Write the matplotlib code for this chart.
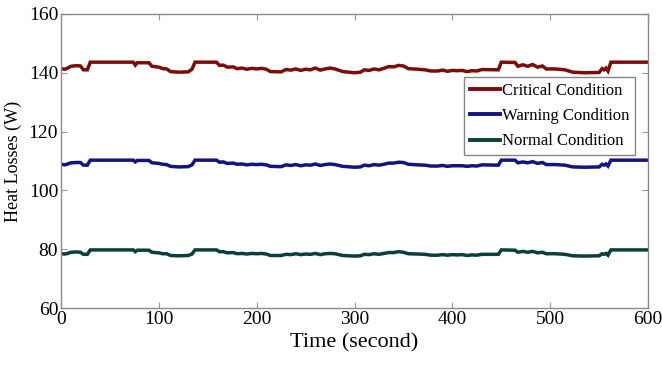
import matplotlib
matplotlib.use("Agg")
import matplotlib.pyplot as plt

time_s = [0, 4, 7, 10, 16, 20, 23, 27, 30, 74,
          76, 78, 90, 93, 100, 104, 108, 112, 120, 130,
          134, 137, 159, 162, 166, 170, 176, 180, 185, 190,
          195, 200, 205, 210, 214, 225, 230, 235, 240, 245,
          250, 255, 260, 265, 270, 275, 280, 288, 300, 306,
          310, 315, 320, 325, 330, 335, 340, 345, 350, 355,
          365, 372, 378, 385, 390, 395, 400, 405, 410, 415,
          420, 425, 430, 447, 450, 464, 467, 472, 477, 482,
          487, 492, 496, 505, 515, 523, 535, 550, 553, 555,
          557, 559, 562, 600]

critical = [141.4, 141.2, 141.6, 142.2, 142.4, 142.3, 141.0, 141.0, 143.6, 143.6,
            142.6, 143.4, 143.4, 142.2, 141.9, 141.4, 141.3, 140.4, 140.2, 140.3,
            141.2, 143.6, 143.6, 142.5, 142.6, 141.9, 142.0, 141.4, 141.6, 141.2,
            141.5, 141.3, 141.5, 141.2, 140.4, 140.3, 141.1, 140.9, 141.3, 140.8,
            141.2, 141.0, 141.6, 140.9, 141.3, 141.6, 141.3, 140.4, 140.0, 140.2,
            141.0, 140.8, 141.3, 141.0, 141.5, 142.1, 142.0, 142.5, 142.3, 141.4,
            141.2, 141.0, 140.6, 140.6, 140.9, 140.5, 140.8, 140.7, 140.8, 140.4,
            140.7, 140.6, 141.1, 141.0, 143.6, 143.5, 142.2, 142.7, 142.2, 142.8,
            141.9, 142.3, 141.3, 141.3, 141.0, 140.2, 140.0, 140.1, 141.4, 141.0,
            141.6, 140.6, 143.6, 143.6]

warning = [108.9, 108.7, 109.0, 109.4, 109.5, 109.5, 108.6, 108.6, 110.3, 110.3,
           109.7, 110.2, 110.2, 109.4, 109.2, 108.9, 108.8, 108.2, 108.0, 108.1,
           108.7, 110.3, 110.3, 109.6, 109.7, 109.2, 109.3, 108.9, 109.0, 108.7,
           108.9, 108.8, 108.9, 108.7, 108.2, 108.1, 108.7, 108.5, 108.8, 108.4,
           108.7, 108.6, 109.0, 108.5, 108.8, 109.0, 108.8, 108.2, 107.9, 108.0,
           108.6, 108.4, 108.8, 108.6, 108.9, 109.3, 109.3, 109.6, 109.5, 108.9,
           108.7, 108.6, 108.3, 108.3, 108.5, 108.2, 108.4, 108.4, 108.4, 108.2,
           108.4, 108.3, 108.7, 108.6, 110.3, 110.3, 109.4, 109.7, 109.4, 109.8,
           109.2, 109.5, 108.8, 108.8, 108.6, 108.0, 107.9, 108.0, 108.9, 108.6,
           109.0, 108.3, 110.3, 110.3]

normal = [78.5, 78.4, 78.6, 79.0, 79.1, 79.0, 78.3, 78.3, 79.8, 79.8,
          79.2, 79.7, 79.7, 79.0, 78.8, 78.5, 78.5, 77.9, 77.8, 77.9,
          78.4, 79.8, 79.8, 79.2, 79.2, 78.8, 78.9, 78.5, 78.6, 78.4,
          78.6, 78.5, 78.6, 78.4, 77.9, 77.9, 78.3, 78.2, 78.5, 78.2,
          78.4, 78.3, 78.6, 78.2, 78.5, 78.6, 78.5, 77.9, 77.7, 77.8,
          78.3, 78.2, 78.5, 78.3, 78.6, 78.9, 78.9, 79.2, 79.0, 78.5,
          78.4, 78.3, 78.0, 78.0, 78.2, 78.0, 78.2, 78.1, 78.2, 77.9,
          78.1, 78.0, 78.3, 78.3, 79.8, 79.7, 79.0, 79.3, 79.0, 79.3,
          78.8, 79.0, 78.5, 78.5, 78.3, 77.8, 77.7, 77.8, 78.5, 78.3,
          78.6, 78.0, 79.8, 79.8]

series_labels = ["Critical Condition", "Warning Condition", "Normal Condition"]
x_ticks = [0, 100, 200, 300, 400, 500, 600]
y_ticks = [60, 80, 100, 120, 140, 160]

plt.rcParams['font.family'] = ['Liberation Serif', 'DejaVu Serif']

fig = plt.figure(figsize=(6.62, 3.66), dpi=100)
ax = fig.add_axes([0.092, 0.158, 0.887, 0.804])

colors = ["#7d0c0c", "#14147f", "#0b3f3a"]
for vals, lab, c in zip([critical, warning, normal], series_labels, colors):
    ax.plot(time_s, vals, color=c, lw=2.5, label=lab, solid_joinstyle='miter')

ax.set_xlim(0, 600)
ax.set_ylim(60, 160)
ax.set_xticks(x_ticks)
ax.set_yticks(y_ticks)
ax.tick_params(direction='in', top=True, right=True, length=4, width=0.8,
               colors='#9a9a9a', labelcolor='black', labelsize=14, pad=2)
for s in ax.spines.values():
    s.set_color('#8a8a8a')
    s.set_linewidth(1.0)

ax.set_xlabel("Time (second)", fontsize=16, labelpad=4)
ax.set_ylabel("Heat Losses (W)", fontsize=13, labelpad=5)

leg = ax.legend(loc='upper left', bbox_to_anchor=(0.687, 0.785), fontsize=12,
                frameon=True, fancybox=False, handlelength=1.8, handletextpad=0.1,
                borderpad=0.35, labelspacing=0.55, borderaxespad=0)
leg.get_frame().set_edgecolor('#666666')
leg.get_frame().set_linewidth(1.0)
for line in leg.get_lines():
    line.set_linewidth(2.8)

fig.savefig("out.png", dpi=100)
